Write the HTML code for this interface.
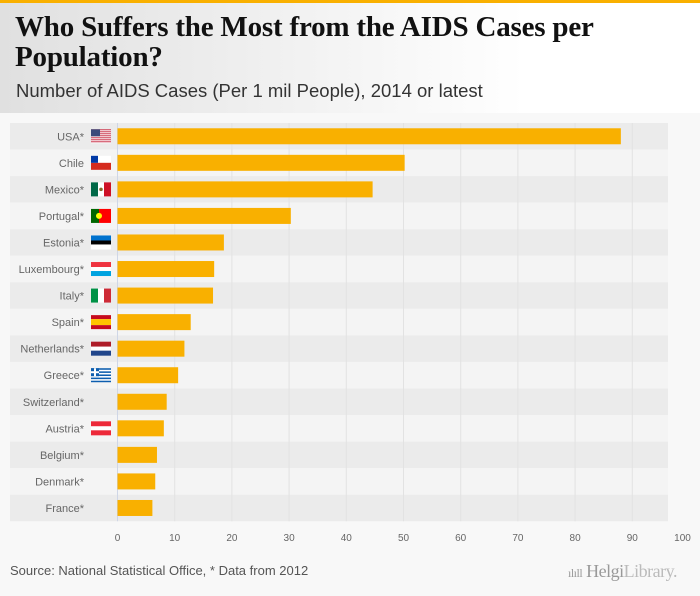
<!DOCTYPE html>
<html><head><meta charset="utf-8"><style>
body{margin:0;width:700px;height:596px;background:#f8f8f8;font-family:"Liberation Sans",sans-serif;overflow:hidden;position:relative}
#top{position:absolute;left:0;top:0;width:700px;height:3px;background:#f9b000}
#hdr{position:absolute;left:0;top:3px;width:700px;height:110px;background:linear-gradient(90deg,#e0e0e0,#fff 75%)}
#title{position:absolute;left:15px;top:12px;font-family:"Liberation Serif",serif;font-weight:bold;font-size:29px;line-height:30px;color:#111;letter-spacing:-0.2px;white-space:nowrap}
#sub{position:absolute;left:16px;top:80px;font-size:18.5px;color:#333}
#src{position:absolute;left:10px;top:563px;font-size:13px;color:#555}
#logo{position:absolute;left:568px;top:561px;font-family:"Liberation Serif",serif;font-size:18px;color:#999;white-space:nowrap;letter-spacing:-0.5px}
svg{position:absolute;left:0;top:0}
</style></head><body>
<div id="top"></div>
<div id="hdr"></div>
<div id="title">Who Suffers the Most from the AIDS Cases per<br>Population?</div>
<div id="sub">Number of AIDS Cases (Per 1 mil People), 2014 or latest</div>
<svg id="chart" width="700" height="596"></svg>
<div id="src">Source: National Statistical Office, * Data from 2012</div>
<div id="logo"><span style="font-size:12px">ılıll</span> Helgi<span style="color:#bbb">Library.</span></div>
<script>
const categories=["USA*","Chile","Mexico*","Portugal*","Estonia*","Luxembourg*","Italy*","Spain*","Netherlands*","Greece*","Switzerland*","Austria*","Belgium*","Denmark*","France*"];
const values=[88.0,50.2,44.6,30.3,18.6,16.9,16.7,12.8,11.7,10.6,8.6,8.1,6.9,6.6,6.1];
const ticks=[0,10,20,30,40,50,60,70,80,90,100];
const flags=["us","cl","mx","pt","ee","lu","it","es","nl","gr","","at","","",""];
const svg=document.getElementById('chart');
const NS="http://www.w3.org/2000/svg";
const x0=117.5,k=5.72,top0=123,rh=26.55;
const xs=v=>x0+v*k;
function el(t,a,p){const e=document.createElementNS(NS,t);for(const n in a)e.setAttribute(n,a[n]);(p||svg).appendChild(e);return e;}
categories.forEach((c,i)=>{
 const b=el('rect',{x:10,y:top0+i*rh,width:658,height:rh,fill:i%2==0?'#ebebeb':'#f4f4f4'});
 
 
});
ticks.forEach(t=>{
 if(t<100){const g=el('line',{x1:xs(t),x2:xs(t),y1:top0,y2:top0+15*rh,stroke:t==0?'#cfd6e6':'#e2e2e2','stroke-width':1});
 
 }
 const tl=el('text',{x:xs(t)-(t==100?7:0),y:541,'text-anchor':'middle','font-size':10,fill:'#666'});
 tl.textContent=t;
 
 
});
function flag(code,x,y){
 const g=el('g',{});
 
 
 const w=20,h=14;
 const r=(a,b,c,d,f)=>el('rect',{x:x+a,y:y+b,width:c,height:d,fill:f},g);
 if(code=='us'){r(0,0,w,h,'#fff');for(let i=0;i<7;i++)r(0,i*2,w,1,'#c8344a');r(0,0,9,7,'#3b4a7a');}
 else if(code=='cl'){r(0,0,w,7,'#fff');r(0,7,w,7,'#d52b1e');r(0,0,7,7,'#0039a6');}
 else if(code=='mx'){r(0,0,7,h,'#006847');r(7,0,6,h,'#fff');r(13,0,7,h,'#ce1126');el('circle',{cx:x+10,cy:y+7,r:1.8,fill:'#8a6a2a'},g);}
 else if(code=='pt'){r(0,0,8,h,'#006600');r(8,0,12,h,'#f00');el('circle',{cx:x+8,cy:y+7,r:3,fill:'#ff0'},g);}
 else if(code=='ee'){r(0,0,w,5,'#0072ce');r(0,5,w,4,'#000');r(0,9,w,5,'#fff');}
 else if(code=='lu'){r(0,0,w,5,'#ef3340');r(0,5,w,4,'#fff');r(0,9,w,5,'#00a3e0');}
 else if(code=='it'){r(0,0,7,h,'#009246');r(7,0,6,h,'#fff');r(13,0,7,h,'#ce2b37');}
 else if(code=='es'){r(0,0,w,4,'#c60b1e');r(0,4,w,6,'#ffc400');r(0,10,w,4,'#c60b1e');}
 else if(code=='nl'){r(0,0,w,5,'#ae1c28');r(0,5,w,4,'#fff');r(0,9,w,5,'#21468b');}
 else if(code=='gr'){r(0,0,w,h,'#0d5eaf');for(let i=1;i<9;i+=2)r(0,i*1.56,w,1.56,'#fff');r(0,0,8,8,'#0d5eaf');r(3,0,2,8,'#fff');r(0,3,8,2,'#fff');}
 else if(code=='at'){r(0,0,w,5,'#ed2939');r(0,5,w,4,'#fff');r(0,9,w,5,'#ed2939');}
}
categories.forEach((c,i)=>{
 const cy=top0+i*rh+rh/2;
 const bar=el('rect',{x:x0,y:cy-8,width:xs(values[i])-x0,height:16,fill:'#f9b000'});
 
 
 const t=el('text',{x:84,y:cy+4,'text-anchor':'end','font-size':11,fill:'#666'});
 t.textContent=c;
 
 
 if(flags[i])flag(flags[i],91,cy-7);
});
</script>
</body></html>
